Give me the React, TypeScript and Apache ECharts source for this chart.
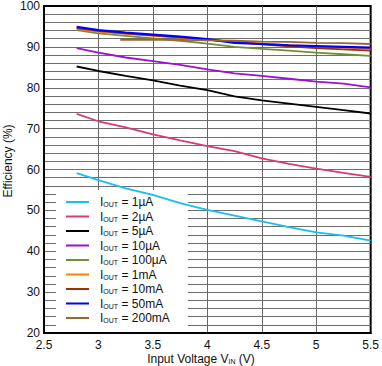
import React, { useEffect, useRef } from "react";
import * as echarts from "echarts";

const voltage = [2.8, 3.0, 3.25, 3.5, 3.75, 4.0, 4.25, 4.5, 4.75, 5.0, 5.25, 5.5];
const voltage200mA = [3.2, 3.5, 3.75, 4.0, 4.25, 4.5, 4.75, 5.0, 5.25, 5.5];

const eff1uA = [59.1, 57.4, 55.4, 53.8, 51.8, 50.1, 48.7, 47.3, 45.9, 44.6, 43.8, 42.6];
const eff2uA = [73.6, 71.8, 70.3, 68.6, 67.1, 65.7, 64.5, 62.7, 61.4, 60.2, 59.2, 58.2];
const eff5uA = [85.2, 84.1, 82.9, 81.8, 80.5, 79.4, 77.9, 76.9, 76.1, 75.3, 74.5, 73.7];
const eff10uA = [89.7, 88.6, 87.4, 86.5, 85.6, 84.5, 83.5, 82.9, 82.2, 81.5, 81.0, 80.1];
const eff100uA = [94.1, 93.3, 92.7, 92.1, 91.5, 90.8, 90.0, 89.5, 89.1, 88.6, 88.2, 87.8];
const eff1mA = [94.4, 93.7, 93.2, 92.7, 92.2, 91.7, 91.3, 90.8, 90.4, 90.0, 89.8, 89.5];
const eff10mA = [94.6, 93.9, 93.3, 92.8, 92.3, 91.8, 91.2, 90.6, 90.1, 89.7, 89.4, 89.1];
const eff50mA = [94.9, 94.1, 93.5, 93.0, 92.5, 91.9, 91.0, 90.7, 90.4, 90.2, 90.0, 89.8];
const eff200mA = [91.7, 91.8, 91.7, 91.6, 91.5, 91.3, 91.2, 91.0, 90.9, 90.7];

const seriesNames = ["1µA", "2µA", "5µA", "10µA", "100µA", "1mA", "10mA", "50mA", "200mA"];
const seriesColors = ["#19bdf2", "#d63a78", "#000000", "#9b10d6", "#6f8f3a", "#ff8000", "#a03000", "#0000ff", "#9a6630"];
const seriesValues = [eff1uA, eff2uA, eff5uA, eff10uA, eff100uA, eff1mA, eff10mA, eff50mA, eff200mA];
const seriesX = [voltage, voltage, voltage, voltage, voltage, voltage, voltage, voltage, voltage200mA];

const xTicks = { min: 2.5, max: 5.5, interval: 0.5 };
const yTicks = { min: 20, max: 100, interval: 2, labelStep: 10 };

const FONT = "Liberation Sans, Arial, sans-serif";

export default function App() {
  const ref = useRef<HTMLDivElement>(null);
  useEffect(() => {
    if (!ref.current) return;
    const chart = echarts.init(ref.current, undefined, { renderer: "svg" });
    const series = seriesNames.map((name, i) => ({
      name,
      type: "line",
      data: seriesX[i].map((x, j) => [x, seriesValues[i][j]]),
      showSymbol: false,
      symbol: "none",
      lineStyle: { color: seriesColors[i], width: name === "50mA" ? 2.2 : 1.8 },
      itemStyle: { color: seriesColors[i] },
      z: 6,
    }));
    chart.setOption({
      animation: false,
      textStyle: { fontFamily: FONT },
      grid: {
        left: 44,
        right: 8,
        top: 4,
        bottom: 33,
        show: true,
        borderColor: "#000",
        borderWidth: 2,
        backgroundColor: "#fff",
      },
      xAxis: {
        type: "value",
        min: xTicks.min,
        max: xTicks.max,
        interval: xTicks.interval,
        axisLine: { show: true, lineStyle: { color: "#000", width: 2 } },
        axisTick: { show: false },
        axisLabel: { color: "#111", fontSize: 12, margin: 6, lineHeight: 12, fontFamily: FONT },
        splitLine: {
          show: true,
          showMinLine: false,
          showMaxLine: false,
          lineStyle: { color: "#666", width: 1 },
        },
      },
      yAxis: {
        type: "value",
        min: yTicks.min,
        max: yTicks.max,
        interval: yTicks.interval,
        axisLine: { show: true, lineStyle: { color: "#000", width: 2 } },
        axisTick: { show: false },
        axisLabel: {
          color: "#111",
          fontSize: 12,
          margin: 4,
          fontFamily: FONT,
          formatter: (v: number) => (Math.round(v) % yTicks.labelStep === 0 ? String(Math.round(v)) : ""),
        },
        splitLine: {
          show: true,
          showMinLine: false,
          showMaxLine: false,
          lineStyle: { color: "#6e6e6e", width: 1 },
        },
      },
      legend: {
        orient: "vertical",
        left: 56,
        top: 190,
        padding: [6, 18, 8, 10],
        backgroundColor: "#fff",
        itemWidth: 23,
        itemHeight: 2,
        itemGap: 2.5,
        icon: "rect",
        z: 4,
        data: seriesNames,
        formatter: (name: string) => `{i|I}{s|OUT}{t| = ${name}}`,
        textStyle: {
          padding: [0, 0, 0, 6],
          rich: {
            i: { fontSize: 12, lineHeight: 12, color: "#111", fontFamily: FONT },
            s: { fontSize: 7, lineHeight: 12, color: "#111", verticalAlign: "bottom", fontFamily: FONT },
            t: { fontSize: 12, lineHeight: 12, color: "#111", fontFamily: FONT },
          },
        },
      },
      graphic: [
        {
          type: "text",
          x: 201,
          y: 359,
          style: {
            text: "{a|Input Voltage V}{s|IN}{a| (V)}",
            align: "center",
            verticalAlign: "middle",
            rich: {
              a: { fontSize: 12, lineHeight: 12, fill: "#111", fontFamily: FONT },
              s: { fontSize: 7, lineHeight: 12, fill: "#111", verticalAlign: "bottom", fontFamily: FONT },
            },
          },
        },
        {
          type: "text",
          x: 8,
          y: 161,
          rotation: Math.PI / 2,
          style: {
            text: "Efficiency (%)",
            align: "center",
            verticalAlign: "middle",
            fontSize: 12,
            fill: "#111",
            fontFamily: FONT,
          },
        },
      ],
      series,
    });
    return () => chart.dispose();
  }, []);
  return (
    <div
      ref={ref}
      style={{ position: "absolute", left: 0, top: 0, width: 382, height: 366 }}
    />
  );
}
